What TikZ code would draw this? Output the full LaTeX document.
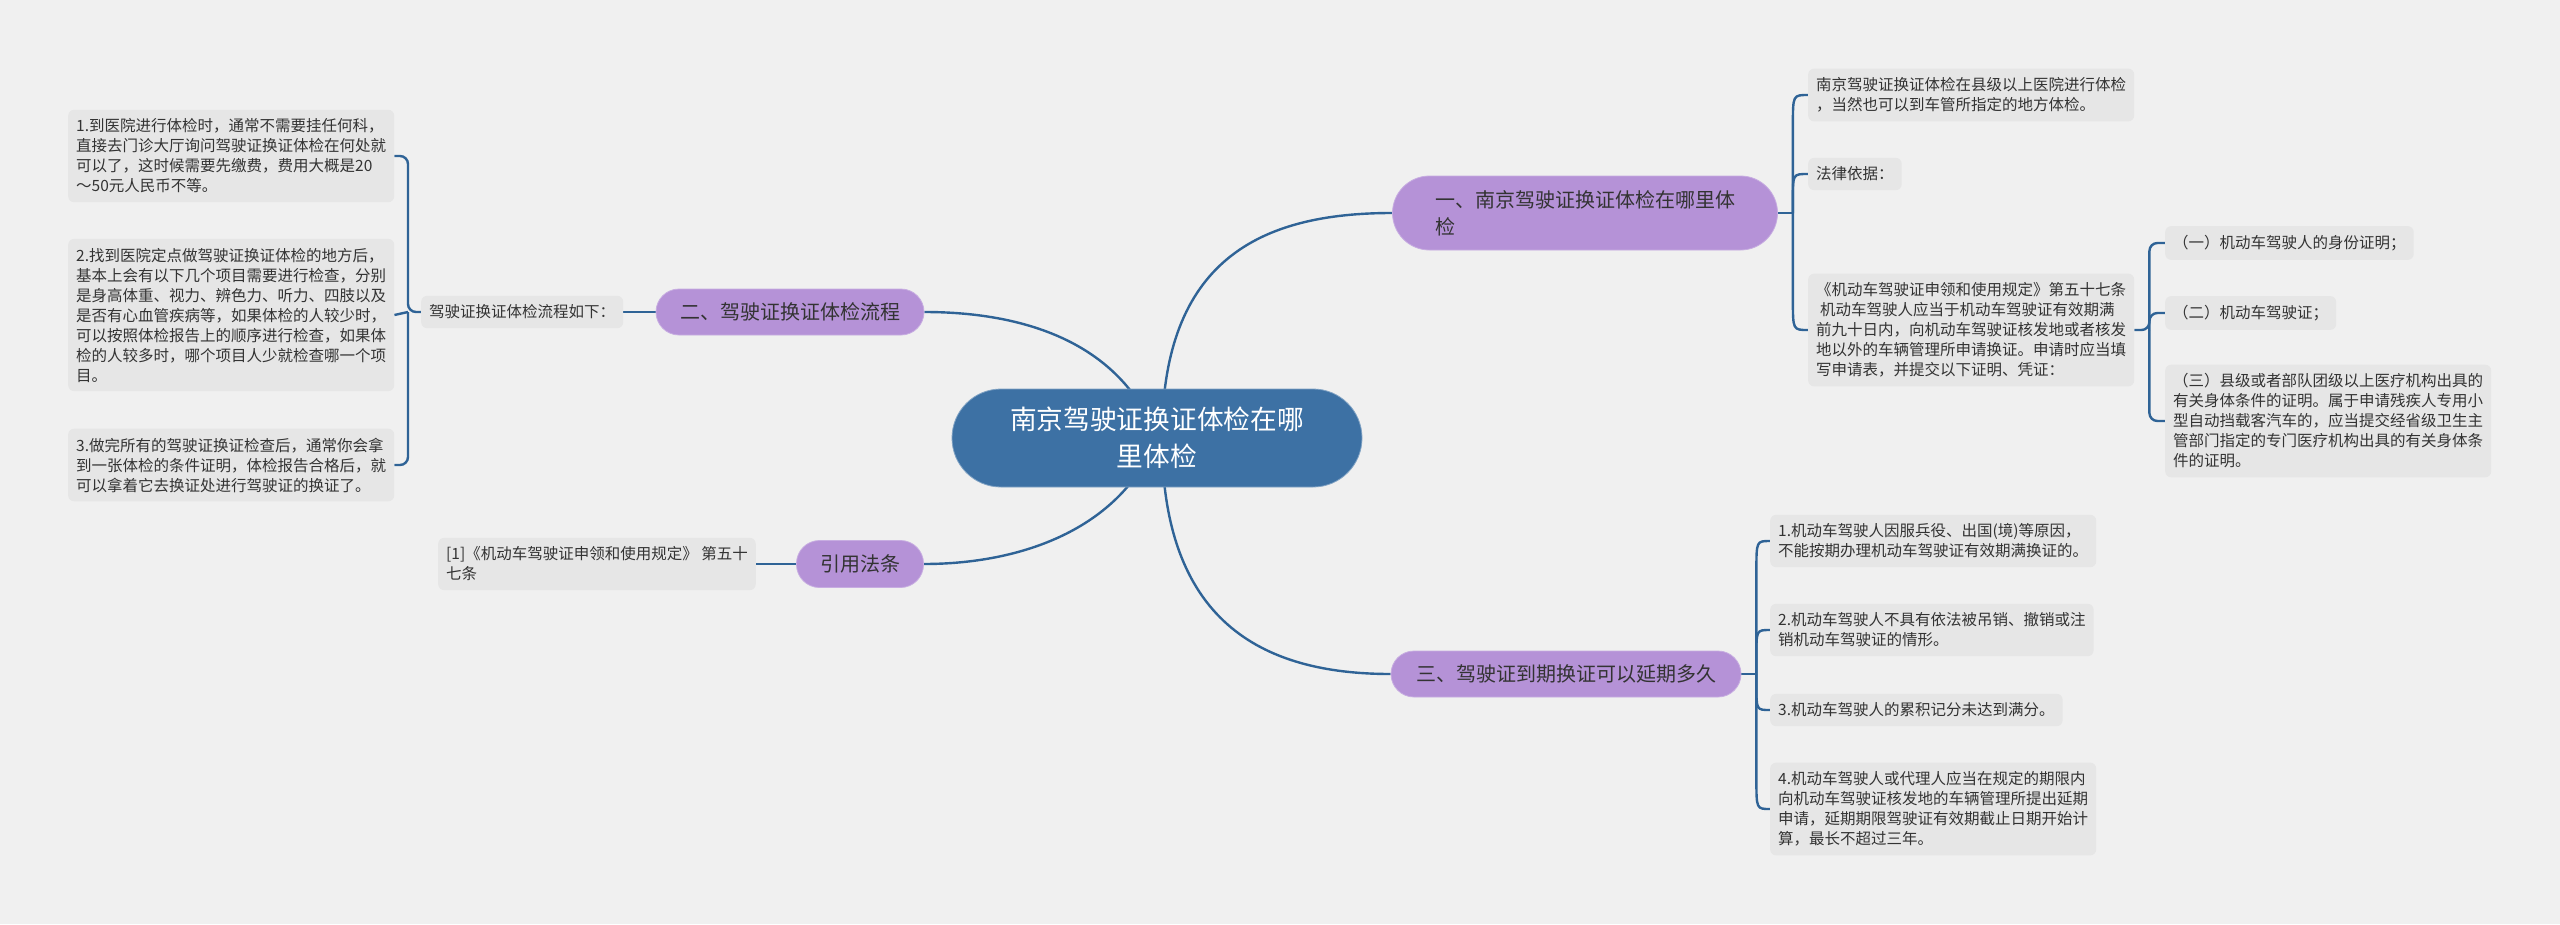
\documentclass[tikz,border=0pt]{standalone}
\usepackage{fontspec}
\setmainfont{Noto Sans CJK SC}
\usetikzlibrary{calc}
\definecolor{bgc}{HTML}{F0F0F0}
\definecolor{linec}{HTML}{2F6396}
\definecolor{rootc}{HTML}{3D71A4}
\definecolor{purp}{HTML}{B592D7}
\definecolor{leafc}{HTML}{E6E6E6}
\definecolor{txt}{HTML}{333333}
\pgfdeclarelayer{back}
\pgfdeclarelayer{bg}
\pgfsetlayers{back,bg,main}
\begin{document}
\begin{tikzpicture}[x=1pt,y=-1pt,
 conn/.style={draw=linec, line width=2.4pt},
 leaf/.style={fill=leafc, rounded corners=6pt, inner xsep=8pt, inner ysep=9pt, align=left, anchor=west, text=txt, font=\fontsize{15.5}{20}\selectfont},
 branch/.style={fill=purp, draw=purp!75!white, line width=0.8pt, text=txt, font=\fontsize{20}{27}\selectfont, align=left, inner sep=0pt},
 rootbox/.style={fill=rootc, draw=rootc!65!white, line width=0.8pt, text=white, font=\fontsize{26.7}{36.7}\selectfont, align=center, minimum width=410pt, minimum height=98pt, rounded corners=49pt, inner sep=0pt}]
\begin{pgfonlayer}{back}
\fill[bgc] (0,0) rectangle (2560,924);
\end{pgfonlayer}
\useasboundingbox (0,0) rectangle (2560,924);

% root and branches
\node[rootbox] (root) at (1157,438) {南京驾驶证换证体检在哪\\里体检};
\node[branch, minimum width=385pt, minimum height=74pt, rounded corners=37pt] (b1) at (1585,213) {一、南京驾驶证换证体检在哪里体\\检};
\node[branch, minimum width=268pt, minimum height=46pt, rounded corners=23pt] (b2) at (790,312) {二、驾驶证换证体检流程};
\node[branch, minimum width=127pt, minimum height=47pt, rounded corners=23pt] (b4) at (860,564) {引用法条};
\node[branch, minimum width=350pt, minimum height=46pt, rounded corners=23pt] (b3) at (1566,674) {三、驾驶证到期换证可以延期多久};

% left side leaves
\node[leaf] (lf0) at (421,312) {驾驶证换证体检流程如下：};
\node[leaf] (l1) at (68,156) {1.到医院进行体检时，通常不需要挂任何科，\\直接去门诊大厅询问驾驶证换证体检在何处就\\可以了，这时候需要先缴费，费用大概是20\\～50元人民币不等。};
\node[leaf] (l2) at (68,315) {2.找到医院定点做驾驶证换证体检的地方后，\\基本上会有以下几个项目需要进行检查，分别\\是身高体重、视力、辨色力、听力、四肢以及\\是否有心血管疾病等，如果体检的人较少时，\\可以按照体检报告上的顺序进行检查，如果体\\检的人较多时，哪个项目人少就检查哪一个项\\目。};
\node[leaf] (l3) at (68,465) {3.做完所有的驾驶证换证检查后，通常你会拿\\到一张体检的条件证明，体检报告合格后，就\\可以拿着它去换证处进行驾驶证的换证了。};
\node[leaf] (ref) at (438,564) {[1]《机动车驾驶证申领和使用规定》 第五十\\七条};

% right upper leaves
\node[leaf] (rA) at (1808,95) {南京驾驶证换证体检在县级以上医院进行体检\\，当然也可以到车管所指定的地方体检。};
\node[leaf] (rB) at (1808,174) {法律依据：};
\node[leaf] (rC) at (1808,330) {《机动车驾驶证申领和使用规定》第五十七条\\\hspace*{4pt}机动车驾驶人应当于机动车驾驶证有效期满\\前九十日内，向机动车驾驶证核发地或者核发\\地以外的车辆管理所申请换证。申请时应当填\\写申请表，并提交以下证明、凭证：};
\node[leaf] (rD) at (2165,243) {（一）机动车驾驶人的身份证明；};
\node[leaf] (rE) at (2165,313) {（二）机动车驾驶证；};
\node[leaf] (rF) at (2165,421) {（三）县级或者部队团级以上医疗机构出具的\\有关身体条件的证明。属于申请残疾人专用小\\型自动挡载客汽车的，应当提交经省级卫生主\\管部门指定的专门医疗机构出具的有关身体条\\件的证明。};

% right lower leaves
\node[leaf] (rG) at (1770,541) {1.机动车驾驶人因服兵役、出国(境)等原因，\\不能按期办理机动车驾驶证有效期满换证的。};
\node[leaf] (rH) at (1770,630) {2.机动车驾驶人不具有依法被吊销、撤销或注\\销机动车驾驶证的情形。};
\node[leaf] (rI) at (1770,710) {3.机动车驾驶人的累积记分未达到满分。};
\node[leaf] (rJ) at (1770,809) {4.机动车驾驶人或代理人应当在规定的期限内\\向机动车驾驶证核发地的车辆管理所提出延期\\申请，延期期限驾驶证有效期截止日期开始计\\算，最长不超过三年。};

\begin{pgfonlayer}{bg}
% root connectors
\draw[conn] (root.center) .. controls (1120,340) and (1020,312) .. (b2.east);
\draw[conn] ($(root.center)+(5,0)$) .. controls (1162,260) and (1260,213) .. (b1.west);
\draw[conn] (root.center) .. controls (1120,530) and (1020,564) .. (b4.east);
\draw[conn] ($(root.center)+(5,0)$) .. controls (1162,620) and (1260,674) .. (b3.west);

% left
\draw[conn] (b2.west) -- (lf0.east);
\draw[conn] (b4.west) -- (ref.east);
\draw[conn, rounded corners=8pt] (lf0.west) -- ++(-13,0) coordinate (jl) |- (l1.east);
\draw[conn, rounded corners=8pt] (jl) |- (l3.east);
\draw[conn] (jl) -- (l2.east);

% b1 bracket
\draw[conn] (b1.east) -- ++(15,0) coordinate (j1);
\draw[conn] (j1) -- ($(j1 |- rA.west)+(0,30)$) .. controls (j1 |- rA.west) .. (rA.west);
\draw[conn] (j1) -- ($(j1 |- rB.west)+(0,24)$) .. controls (j1 |- rB.west) .. (rB.west);
\draw[conn] (j1) -- ($(j1 |- rC.west)+(0,-30)$) .. controls (j1 |- rC.west) .. (rC.west);

% rC bracket
\draw[conn, rounded corners=8pt] (rC.east) -- ++(15,0) coordinate (j2) |- (rD.west);
\draw[conn, rounded corners=8pt] (j2) |- (rE.west);
\draw[conn, rounded corners=8pt] (j2) |- (rF.west);

% b3 bracket
\draw[conn] (b3.east) -- ++(15,0) coordinate (j3);
\draw[conn] (j3) -- ($(j3 |- rG.west)+(0,30)$) .. controls (j3 |- rG.west) .. (rG.west);
\draw[conn] (j3) -- ($(j3 |- rH.west)+(0,26)$) .. controls (j3 |- rH.west) .. (rH.west);
\draw[conn] (j3) -- ($(j3 |- rI.west)+(0,-24)$) .. controls (j3 |- rI.west) .. (rI.west);
\draw[conn] (j3) -- ($(j3 |- rJ.west)+(0,-30)$) .. controls (j3 |- rJ.west) .. (rJ.west);
\end{pgfonlayer}
\end{tikzpicture}
\end{document}
